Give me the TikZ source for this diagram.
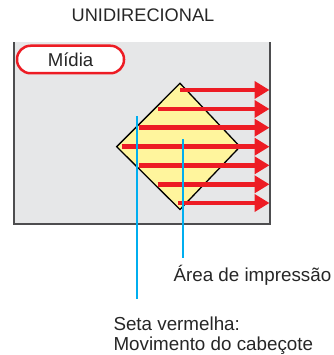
\documentclass[tikz,border=0pt]{standalone}
\usepackage{fontspec}
\setmainfont{Liberation Sans}
\usetikzlibrary{arrows.meta}
\definecolor{boxgray}{HTML}{E6E7E8}
\definecolor{framegray}{HTML}{4D4D4F}
\definecolor{yel}{HTML}{FFF59D}
\definecolor{redA}{HTML}{ED1C24}
\definecolor{cyanA}{HTML}{00AEEF}
\begin{document}
\begin{tikzpicture}[x=1pt,y=-1pt,
  txt/.style={inner sep=0pt, font=\fontsize{18.8}{21}\selectfont, text=black!85},
  redarrow/.style={draw=redA, line width=4.5pt, -{Triangle[length=15pt,width=17pt]}, redA},
  leader/.style={draw=cyanA, line width=2.2pt},
  medialabel/.style={draw=redA, line width=2.5pt, fill=white, rounded corners=13.5pt,
    minimum width=107pt, minimum height=27.5pt, inner sep=0pt, font=\fontsize{18.6}{21}\selectfont, text=black!85}]
\useasboundingbox (0,0) rectangle (333,355);
% title
\node[txt, anchor=base, font=\fontsize{18.2}{20}\selectfont] (title) at (143,21.5) {UNIDIRECIONAL};
% media box
\fill[boxgray] (14,42.5) rectangle (270,224);
\draw[framegray, line width=1.5pt] (14,42.5) -- (14,224) -- (270,224) -- (270,42.5);
\node[medialabel] (midia) at (70.5,59.5) {Mídia};
% print area diamond
\coordinate (dt) at (180,83.3);
\coordinate (dr) at (240,146.7);
\coordinate (db) at (180,209.5);
\coordinate (dl) at (116.7,146.7);
\draw[fill=yel, line width=1.3pt, line join=miter] (dt) -- (dr) -- (db) -- (dl) -- cycle;
% red arrows
\foreach \i/\y/\xs in {1/90/180, 2/109/157.7, 3/127.7/139.3, 4/146.7/121.7, 5/165.3/139.3, 6/184.3/157.7, 7/203/178}{
  \coordinate (s\i) at (\xs,\y);
  \coordinate (e\i) at (269.5,\y);
  \draw[redarrow] (s\i) -- (e\i);
}
% labels
\node[txt, anchor=base west] (area) at (173.3,281.5) {Área de impressão};
\node[txt, anchor=base west] (seta1) at (113.3,330.5) {Seta vermelha:};
\node[txt, anchor=base west] (seta2) at (113.3,350.5) {Movimento do cabeçote};
% leader lines
\coordinate (l1a) at (136.7,116);
\coordinate (l1b) at (136.7,299);
\coordinate (l2a) at (182.7,139.3);
\coordinate (l2b) at (182.7,258.3);
\draw[leader] (l1a) -- (l1b);
\draw[leader] (l2a) -- (l2b);
\end{tikzpicture}
\end{document}
